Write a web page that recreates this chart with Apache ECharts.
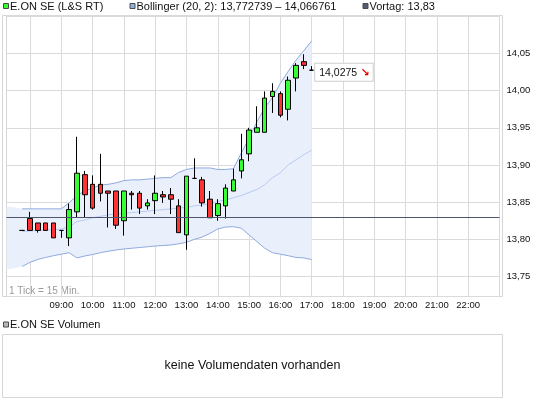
<!DOCTYPE html>
<html><head><meta charset="utf-8">
<script src="https://cdn.jsdelivr.net/npm/echarts@6/dist/echarts.min.js"></script>
<style>html,body{margin:0;padding:0;background:#fff}#c{width:545px;height:401px}</style>
</head><body><div id="c"></div>
<script>
// ---- data (15-minute candles) ----
const candleTimes = ['07:45','08:00','08:15','08:30','08:45','09:00','09:15','09:30','09:45','10:00','10:15','10:30','10:45','11:00','11:15','11:30','11:45','12:00','12:15','12:30','12:45','13:00','13:15','13:30','13:45','14:00','14:15','14:30','14:45','15:00','15:15','15:30','15:45','16:00','16:15','16:30','16:45','17:00'];
const openVals  = [13.812,13.828,13.822,13.822,13.822,13.812,13.802,13.837,13.887,13.874,13.874,13.865,13.865,13.825,13.862,13.862,13.845,13.852,13.860,13.860,13.845,13.806,13.882,13.880,13.854,13.832,13.845,13.865,13.892,13.915,13.944,13.944,13.992,13.996,13.975,14.017,14.039,14.0275];
const closeVals = [13.812,13.812,13.812,13.812,13.802,13.812,13.840,13.889,13.860,13.842,13.862,13.862,13.819,13.865,13.860,13.842,13.849,13.862,13.857,13.854,13.809,13.885,13.882,13.849,13.829,13.848,13.869,13.880,13.907,13.947,13.950,13.990,13.999,13.967,14.014,14.034,14.034,14.0275];
const lowVals   = [13.812,13.812,13.809,13.812,13.802,13.802,13.791,13.829,13.829,13.840,13.851,13.816,13.814,13.805,13.840,13.834,13.840,13.834,13.849,13.834,13.809,13.786,13.882,13.844,13.829,13.825,13.828,13.865,13.882,13.905,13.944,13.944,13.970,13.964,13.960,13.999,14.029,14.0275];
const highVals  = [13.812,13.837,13.822,13.822,13.822,13.812,13.848,13.938,13.892,13.886,13.915,13.865,13.865,13.865,13.865,13.865,13.854,13.886,13.865,13.869,13.854,13.885,13.909,13.884,13.865,13.854,13.874,13.895,13.942,13.950,13.979,13.999,14.010,13.999,14.019,14.037,14.049,14.033];

// Bollinger (20, 2) values at each candle
const bollUpper  = [13.841,13.841,13.841,13.841,13.841,13.841,13.849,13.859,13.865,13.869,13.873,13.874,13.876,13.879,13.880,13.880,13.881,13.882,13.883,13.883,13.890,13.894,13.896,13.896,13.896,13.894,13.894,13.895,13.916,13.936,13.958,13.977,13.991,14.010,14.026,14.041,14.054,14.066761];
const bollMiddle = [13.8105,13.8111,13.8118,13.8125,13.8131,13.8138,13.8165,13.824,13.826,13.829,13.831,13.833,13.834,13.835,13.836,13.837,13.838,13.839,13.840,13.841,13.842,13.843,13.845,13.846,13.848,13.851,13.853,13.856,13.859,13.863,13.867,13.8735,13.883,13.8895,13.900,13.907,13.914,13.91975];
const bollLower  = [13.7635,13.769,13.773,13.7756,13.778,13.780,13.782,13.775,13.7776,13.7796,13.782,13.784,13.7857,13.787,13.788,13.789,13.790,13.791,13.7917,13.7924,13.794,13.796,13.800,13.803,13.808,13.814,13.8165,13.817,13.815,13.806,13.797,13.788,13.782,13.780,13.778,13.7756,13.775,13.772739];
// band area before the first candle
const bandLeadTimes = ['07:15','07:30'];
const bandLeadUpper = [13.844,13.843];
const bandLeadLower = [13.7595,13.761];

const prevClose = 13.83;
const yTicks = [13.75,13.80,13.85,13.90,13.95,14.00,14.05];
const xTickLabels = ['09:00','10:00','11:00','12:00','13:00','14:00','15:00','16:00','17:00','18:00','19:00','20:00','21:00','22:00'];

// ---- axis slots 07:15 .. 23:00 every 15 min ----
const slots = [];
for (let m = 7*60+15; m <= 23*60; m += 15) {
  slots.push(String(Math.floor(m/60)).padStart(2,'0') + ':' + String(m%60).padStart(2,'0'));
}
const idx = t => slots.indexOf(t);
const blank = () => slots.map(() => '-');

const candleData = blank();
candleTimes.forEach((t,i) => { candleData[idx(t)] = [openVals[i], closeVals[i], lowVals[i], highVals[i]]; });

const upperData = blank(), middleData = blank(), lowerData = blank(), fillBase = blank(), fillSpan = blank();
bandLeadTimes.forEach((t,i) => { fillBase[idx(t)] = bandLeadLower[i]; fillSpan[idx(t)] = bandLeadUpper[i] - bandLeadLower[i]; });
candleTimes.forEach((t,i) => {
  const k = idx(t);
  upperData[k] = bollUpper[i]; middleData[k] = bollMiddle[i]; lowerData[k] = bollLower[i];
  fillBase[k] = bollLower[i]; fillSpan[k] = bollUpper[i] - bollLower[i];
});

const fmt = (v, d) => v.toFixed(d).replace('.', ',');
const lastI = candleTimes.length - 1;
const FONT = 'Liberation Sans, Arial, sans-serif';

const chart = echarts.init(document.getElementById('c'), null, {renderer: 'canvas'});

function legendItem(x, color, text) {
  return [
    {type:'rect', shape:{x:x+0.5, y:3.5, width:5, height:5}, style:{fill:color, stroke:'#4a4a4a', lineWidth:1}, silent:true},
    {type:'text', x:x+7, y:6.5, style:{text:text, fill:'#111', font:'11px ' + FONT, textVerticalAlign:'middle'}, silent:true}
  ];
}

const option = {
  animation: false,
  backgroundColor: '#fff',
  grid: {left: 6.5, right: 45.5, top: 15.5, bottom: 104.5, show: true, borderColor: '#d6d6d6', borderWidth: 1, backgroundColor: 'transparent'},
  xAxis: {
    type: 'category', data: slots, boundaryGap: false,
    axisLine: {show: false}, axisTick: {show: false},
    splitLine: {show: true, interval: (i, v) => v.endsWith(':00'), lineStyle: {color: '#dadada', width: 1}},
    axisLabel: {interval: (i, v) => xTickLabels.includes(v), fontSize: 9.5, color: '#111', margin: 4, fontFamily: FONT}
  },
  yAxis: {
    type: 'value', position: 'right', min: 13.7231, max: 14.1011, splitNumber: 7, minInterval: 0.05, maxInterval: 0.05,
    axisLine: {show: false}, axisTick: {show: false},
    splitLine: {show: true, lineStyle: {color: '#dadada', width: 1}},
    axisLabel: {margin: 7, fontSize: 9.5, color: '#111', fontFamily: FONT,
      formatter: v => yTicks.some(t => Math.abs(t - v) < 1e-6) ? fmt(v, 2) : ''}
  },
  series: [
    {type: 'line', data: fillBase, stack: 'band', symbol: 'none', lineStyle: {opacity: 0}, silent: true, z: 1},
    {type: 'line', data: fillSpan, stack: 'band', symbol: 'none', lineStyle: {opacity: 0}, areaStyle: {color: '#e9f0fb', opacity: 1}, silent: true, z: 1},
    {type: 'line', data: upperData, symbol: 'none', lineStyle: {color: '#90aadf', width: 1}, silent: true, z: 2},
    {type: 'line', data: lowerData, symbol: 'none', lineStyle: {color: '#90aadf', width: 1}, silent: true, z: 2},
    {type: 'line', data: middleData, symbol: 'none', lineStyle: {color: '#b7cbf3', width: 1}, silent: true, z: 2},
    {type: 'candlestick', data: candleData, barWidth: 5, z: 3,
      itemStyle: {color: '#33ff33', color0: '#ff3333', borderColor: '#000', borderColor0: '#000', borderWidth: 1},
      markPoint: {
        symbol: 'rect', symbolSize: 1, itemStyle: {color: 'rgba(0,0,0,0)'}, silent: true,
        data: [{coord: [candleTimes[lastI], closeVals[lastI]], value: closeVals[lastI]}],
        label: {show: true, position: 'right', distance: 3, offset: [0, 2],
          formatter: p => '{a|' + fmt(p.value, 4) + '} {b|↘}',
          backgroundColor: '#fff', borderColor: '#cfcfcf', borderWidth: 1, padding: [3, 3, 2, 4],
          rich: {a: {fontSize: 10.5, color: '#111', fontFamily: FONT}, b: {fontSize: 11, color: '#e60000', fontWeight: 'bold', fontFamily: 'DejaVu Sans'}}}
      }
    },
    {type: 'line', data: [], silent: true, z: 4,
      markLine: {symbol: 'none', silent: true, label: {show: false}, lineStyle: {color: '#4f556d', width: 1, type: 'solid'},
        data: [{yAxis: prevClose}]}}
  ],
  graphic: [
    {type: 'rect', shape: {x: 2.5, y: 15.5, width: 500, height: 281}, style: {fill: 'none', stroke: '#d6d6d6', lineWidth: 1}, silent: true, z: 0},
    ...legendItem(3, '#33ff33', 'E.ON SE (L&S RT)'),
    ...legendItem(129.5, '#94aee2', 'Bollinger (20, 2): ' + fmt(bollLower[lastI], 6) + ' \u2013 ' + fmt(bollUpper[lastI], 6)),
    ...legendItem(362.5, '#555a70', 'Vortag: ' + fmt(prevClose, 2)),
    {type: 'text', x: 9, y: 291, style: {text: '1 Tick = 15 Min.', fill: '#9a9a9a', font: '10px ' + FONT, textVerticalAlign: 'middle'}, silent: true},
    {type: 'rect', shape: {x: 3.5, y: 322, width: 5, height: 5}, style: {fill: '#b8b8b8', stroke: '#4a4a4a', lineWidth: 1}, silent: true},
    {type: 'text', x: 10, y: 325, style: {text: 'E.ON SE Volumen', fill: '#111', font: '11px ' + FONT, textVerticalAlign: 'middle'}, silent: true},
    {type: 'rect', shape: {x: 2.5, y: 334.5, width: 500, height: 63}, style: {fill: '#fff', stroke: '#d6d6d6', lineWidth: 1}, silent: true},
    {type: 'text', x: 252.5, y: 366, style: {text: 'keine Volumendaten vorhanden', fill: '#111', font: '12.5px ' + FONT, textAlign: 'center', textVerticalAlign: 'middle'}, silent: true}
  ]
};
chart.setOption(option);
</script>
</body></html>
